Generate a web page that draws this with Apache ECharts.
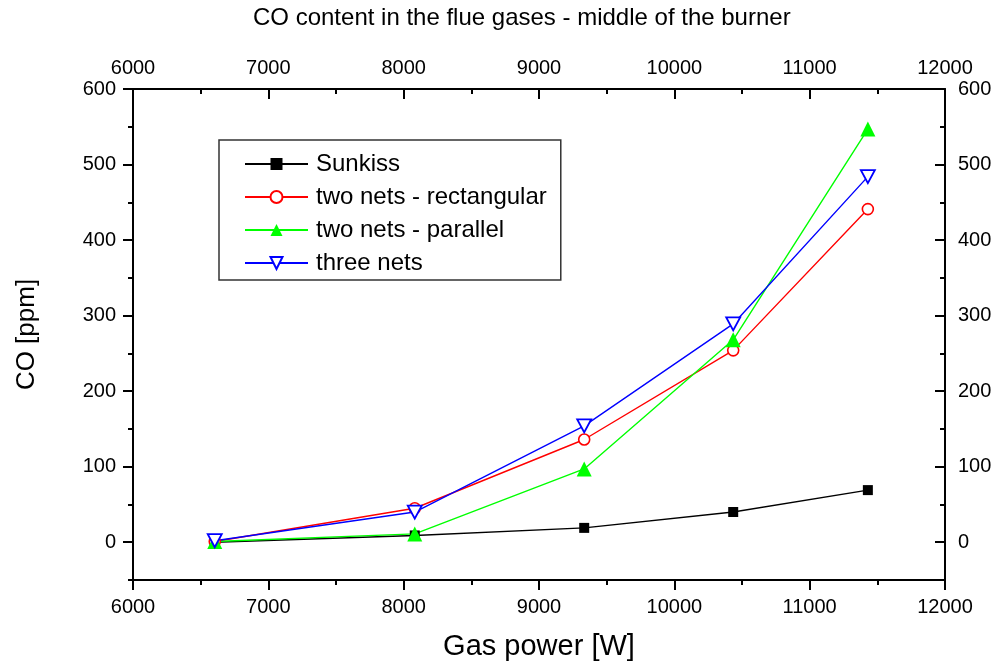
<!DOCTYPE html>
<html>
<head>
<meta charset="utf-8">
<script src="https://cdn.jsdelivr.net/npm/echarts@6/dist/echarts.min.js"></script>
<style>html,body{margin:0;padding:0;background:#fff;}#c{width:996px;height:667px;}</style>
</head>
<body>
<div id="c"></div>
<script>
var gasPower = [6604, 8082, 9334, 10435, 11430];
var sunkiss = [0, 9, 19, 40, 69];
var twoNetsRect = [1, 45, 136, 254, 441];
var twoNetsParallel = [1, 11, 97, 268, 547];
var threeNets = [2, 40, 154, 289, 484];
var seriesNames = ['Sunkiss', 'two nets - rectangular', 'two nets - parallel', 'three nets'];
var yMajorTicks = [0, 100, 200, 300, 400, 500, 600];
var yMinorTicks = [-50, 50, 150, 250, 350, 450, 550];

var FONT = 'Liberation Sans, Arial, sans-serif';
function pts(ys){ return gasPower.map(function(x,i){ return [x, ys[i]]; }); }

var chart = echarts.init(document.getElementById('c'), null, {renderer:'canvas'});
function axisLine(show){ return {show:show, onZero:false, lineStyle:{color:'#000', width:2}}; }
function xAx(pos, inside, showName){
  return {
    type:'value', position:pos, min:6000, max:12000, interval:1000,
    axisLine: axisLine(true),
    axisTick:{show:true, inside:inside, length:10, lineStyle:{color:'#000', width:2}},
    minorTick:{show:true, splitNumber:2, length:5, lineStyle:{color:'#000', width:2}},
    axisLabel:{show:true, color:'#000', fontSize:20, fontFamily:FONT, margin: pos==='top'?11:17,
      formatter:function(v){ return String(v); }},
    splitLine:{show:false}, minorSplitLine:{show:false},
    name: showName ? 'Gas power [W]' : '', nameLocation:'middle', nameGap:52,
    nameTextStyle:{fontSize:29, color:'#000', fontFamily:FONT}
  };
}
function yMajor(pos, inside, showName){
  return {
    type:'value', position:pos, min:-50, max:600,
    axisLine: axisLine(true),
    axisTick:{show:true, inside:inside, length:10, customValues:yMajorTicks, lineStyle:{color:'#000', width:2}},
    axisLabel:{show:true, color:'#000', fontSize:20, fontFamily:FONT, customValues:yMajorTicks, margin: pos==='left'?17:13,
      formatter:function(v){ return String(v); }},
    splitLine:{show:false},
    name: showName ? 'CO [ppm]' : '', nameLocation:'middle', nameGap:93, nameRotate:90,
    nameTextStyle:{fontSize:26, color:'#000', fontFamily:FONT}
  };
}
function yMinor(pos, inside){
  return {
    type:'value', position:pos, min:-50, max:600,
    axisLine: axisLine(false),
    axisTick:{show:true, inside:inside, length:5, customValues:yMinorTicks, lineStyle:{color:'#000', width:2}},
    axisLabel:{show:false},
    splitLine:{show:false}
  };
}

var downTri = 'path://M0,0 L12,0 L6,11 Z';
function mk(name, ys, color, symbol, size, itemStyle){
  return {
    name:name, type:'line', xAxisIndex:0, yAxisIndex:0, data:pts(ys),
    symbol:symbol, symbolSize:size, showAllSymbol:true,
    lineStyle:{color:color, width:1.4},
    itemStyle:itemStyle,
    emphasis:{disabled:true}, animation:false
  };
}

chart.setOption({
  backgroundColor:'#fff',
  animation:false,
  title:{text:'CO content in the flue gases - middle of the burner', left:253, top:6, padding:0,
    textStyle:{fontSize:24, fontWeight:'normal', color:'#000', fontFamily:FONT}},
  grid:{left:133, right:51, top:89, bottom:87, containLabel:false},
  legend:{
    orient:'vertical', left:219, top:140,
    padding:[12, 14, 5, 25],
    borderColor:'#333', borderWidth:1.5, backgroundColor:'#fff',
    itemWidth:63, itemHeight:15, itemGap:9,
    textStyle:{fontSize:24, color:'#000', fontFamily:FONT, padding:[0,0,0,3]},
    data:seriesNames
  },
  xAxis:[ xAx('bottom', false, true), xAx('top', true, false) ],
  yAxis:[ yMajor('left', false, true), yMinor('left', false), yMajor('right', true, false), yMinor('right', true) ],
  series:[
    mk(seriesNames[0], sunkiss, '#000', 'rect', 10, {color:'#000'}),
    mk(seriesNames[1], twoNetsRect, '#ff0000', 'circle', 11, {color:'#fff', borderColor:'#ff0000', borderWidth:1.6}),
    mk(seriesNames[2], twoNetsParallel, '#00ff00', 'triangle', 15, {color:'#00ff00'}),
    mk(seriesNames[3], threeNets, '#0000ff', downTri, [14,13], {color:'#fff', borderColor:'#0000ff', borderWidth:1.8})
  ]
});
</script>
</body>
</html>
